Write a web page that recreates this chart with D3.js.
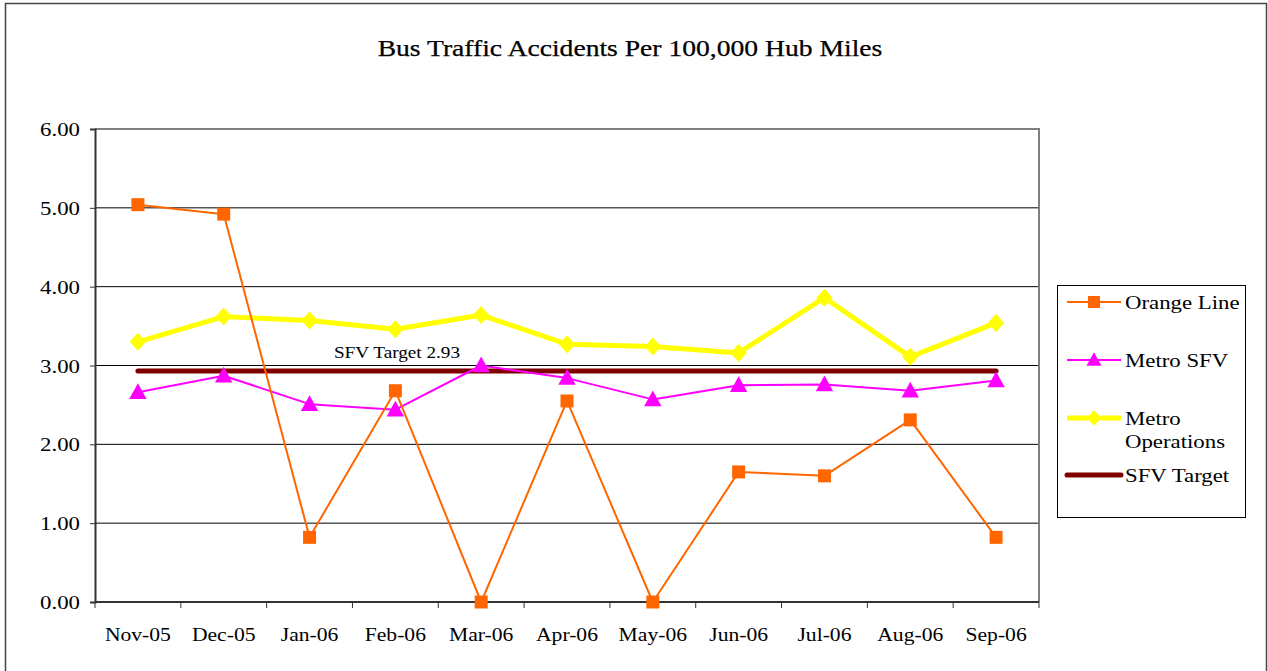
<!DOCTYPE html>
<html>
<head>
<meta charset="utf-8">
<script src="https://cdn.jsdelivr.net/npm/d3@7"></script>
<style>
  html, body { margin: 0; padding: 0; background: #fff; }
  svg { display: block; font-family: "Liberation Serif", "DejaVu Serif", serif; }
</style>
</head>
<body>
<svg id="chart" width="1268" height="671"></svg>
<script>
// dados
const months = ["Nov-05", "Dec-05", "Jan-06", "Feb-06", "Mar-06", "Apr-06", "May-06", "Jun-06", "Jul-06", "Aug-06", "Sep-06"];
const orangeLine = [5.04, 4.92, 0.82, 2.68, 0.0, 2.55, 0.0, 1.65, 1.6, 2.31, 0.82];
const metroSFV = [2.66, 2.87, 2.51, 2.44, 3.0, 2.84, 2.57, 2.75, 2.76, 2.68, 2.81];
const metroOps = [3.3, 3.62, 3.57, 3.46, 3.64, 3.27, 3.24, 3.16, 3.86, 3.11, 3.54];
const sfvTarget = 2.93;
const yTicks = [0, 1, 2, 3, 4, 5, 6];

const series = [
  { name: ["Orange Line"], values: orangeLine, color: "#ff6600", width: 2, marker: "square" },
  { name: ["Metro SFV"], values: metroSFV, color: "#ff00ff", width: 2, marker: "triangle" },
  { name: ["Metro", "Operations"], values: metroOps, color: "#ffff00", width: 5, marker: "diamond" },
];

// a fonte original (tipo Book Antiqua) e mais larga que a Times
const WIDEN = 1.2;

const svg = d3.select("#chart");
const plot = { left: 95, right: 1039, top: 129, bottom: 602 };

// moldura externa
svg.append("rect")
  .attr("x", 5.5).attr("y", 3.5).attr("width", 1261).attr("height", 700)
  .attr("fill", "none").attr("stroke", "#444").attr("stroke-width", 1.5);

svg.append("text")
  .attr("x", 630).attr("y", 56)
  .attr("text-anchor", "middle")
  .attr("font-size", 23)
  .attr("fill", "#000")
  .attr("stroke", "#000").attr("stroke-width", 0.25)
  .text("Bus Traffic Accidents Per 100,000 Hub Miles");

const x = d3.scaleBand().domain(months).range([plot.left, plot.right]);
const y = d3.scaleLinear().domain([0, 6]).range([plot.bottom, plot.top]);
const cx = (m) => x(m) + x.bandwidth() / 2;

// grade
svg.append("g")
  .selectAll("line")
  .data(yTicks.filter((t) => t > 0 && t < 6))
  .join("line")
  .attr("x1", plot.left).attr("x2", plot.right)
  .attr("y1", (d) => y(d)).attr("y2", (d) => y(d))
  .attr("stroke", "#000").attr("stroke-width", 1);

// borda do plot (topo e direita cinza)
svg.append("path")
  .attr("d", `M${plot.left},${plot.top}H${plot.right}V${plot.bottom}`)
  .attr("fill", "none").attr("stroke", "#808080").attr("stroke-width", 2);

// eixo y
const yAxis = svg.append("g")
  .attr("transform", `translate(${plot.left},0)`)
  .call(d3.axisLeft(y).tickValues(yTicks).tickFormat(d3.format(".2f")).tickSize(5).tickPadding(10));
yAxis.select(".domain").attr("stroke", "#333").attr("stroke-width", 2);
yAxis.selectAll(".tick line").attr("stroke", "#333");
yAxis.selectAll("text").attr("font-size", 19).attr("fill", "#000").attr("font-family", "Liberation Serif, serif").attr("dy", "0.35em");

// eixo x com ticks nos limites das faixas
const xAxis = svg.append("g").attr("transform", `translate(0,${plot.bottom})`);
xAxis.append("line")
  .attr("x1", plot.left).attr("x2", plot.right)
  .attr("stroke", "#333").attr("stroke-width", 2);
xAxis.selectAll("line.tk")
  .data(months.map((m) => x(m)).concat([plot.right]))
  .join("line").attr("class", "tk")
  .attr("x1", (d) => d).attr("x2", (d) => d)
  .attr("y1", 0).attr("y2", 6)
  .attr("stroke", "#333").attr("stroke-width", 1);
xAxis.selectAll("text")
  .data(months)
  .join("text")
  .attr("x", (d) => cx(d)).attr("y", 39)
  .attr("text-anchor", "middle")
  .attr("font-size", 18).attr("fill", "#000")
  .text((d) => d);

// linha da meta
svg.append("line")
  .attr("x1", cx(months[0])).attr("x2", cx(months[months.length - 1]))
  .attr("y1", y(sfvTarget)).attr("y2", y(sfvTarget))
  .attr("stroke", "#800000").attr("stroke-width", 5).attr("stroke-linecap", "round");
svg.append("text")
  .attr("x", 397).attr("y", y(sfvTarget) - 13)
  .attr("text-anchor", "middle").attr("font-size", 16).attr("fill", "#000")
  .text(`SFV Target ${sfvTarget}`);

function markerPath(type, s) {
  if (type === "square") {
    return `M${-s / 2},${-s / 2}h${s}v${s}h${-s}Z`;
  }
  if (type === "triangle") {
    return `M0,${-s * 0.6}L${s * 0.58},${s * 0.45}L${-s * 0.58},${s * 0.45}Z`;
  }
  return `M0,${-s * 0.6}L${s * 0.55},0L0,${s * 0.6}L${-s * 0.55},0Z`;
}

const line = d3.line().x((d, i) => cx(months[i])).y((d) => y(d));

// desenha de tras para frente: operacoes, sfv, orange
for (const s of [series[2], series[1], series[0]]) {
  svg.append("path")
    .datum(s.values)
    .attr("d", line)
    .attr("fill", "none").attr("stroke", s.color).attr("stroke-width", s.width)
    .attr("stroke-linejoin", "round");
  svg.append("g")
    .selectAll("path")
    .data(s.values)
    .join("path")
    .attr("transform", (d, i) => `translate(${cx(months[i])},${y(d)})`)
    .attr("d", markerPath(s.marker, s.marker === "square" ? 13 : 15))
    .attr("fill", s.color);
}

// legenda
const lg = svg.append("g").attr("transform", "translate(1057,285)");
lg.append("rect").attr("x", 0.5).attr("y", 0.5).attr("width", 188).attr("height", 232)
  .attr("fill", "#fff").attr("stroke", "#000").attr("stroke-width", 1);
const legendRows = [
  { ...series[0], y: 17 },
  { ...series[1], y: 75 },
  { ...series[2], y: 133 },
  { name: ["SFV Target"], color: "#800000", width: 5, marker: null, y: 190 },
];
for (const r of legendRows) {
  const g = lg.append("g").attr("transform", `translate(0,${r.y})`);
  g.append("line").attr("x1", 10).attr("x2", 64)
    .attr("stroke", r.color).attr("stroke-width", r.width).attr("stroke-linecap", r.marker ? "butt" : "round");
  if (r.marker) {
    g.append("path").attr("transform", "translate(37,0)")
      .attr("d", markerPath(r.marker, r.marker === "square" ? 12 : 13)).attr("fill", r.color);
  }
  g.selectAll("text")
    .data(r.name)
    .join("text")
    .attr("x", 68).attr("y", (d, i) => i * 23)
    .attr("dy", "0.35em")
    .attr("font-size", 19).attr("fill", "#000")
    .text((d) => d);
}

// alarga todos os textos para imitar a fonte original
svg.selectAll("text").each(function () {
  const w = this.getComputedTextLength();
  if (w > 0) {
    d3.select(this).attr("textLength", w * WIDEN).attr("lengthAdjust", "spacingAndGlyphs");
  }
});
</script>
</body>
</html>
